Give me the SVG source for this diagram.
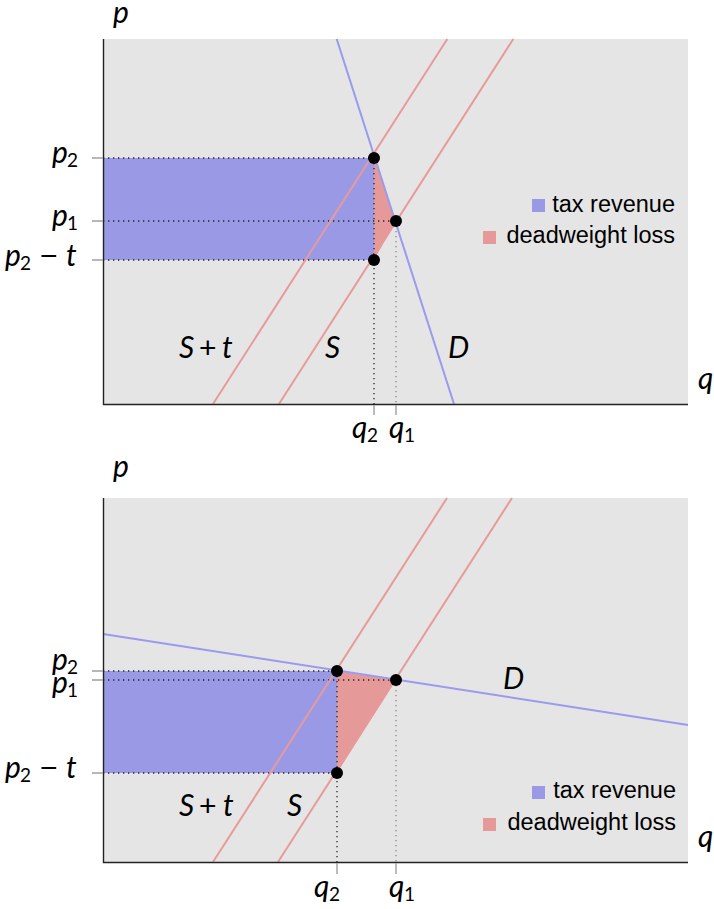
<svg xmlns="http://www.w3.org/2000/svg" width="714" height="909" viewBox="0 0 714 909">
<style>
.bg{fill:#e5e5e5}
.tax{fill:#9999e6}
.dwl{fill:#e69999}
.dot{fill:none;stroke:#222;stroke-width:1.3;stroke-dasharray:1.3 3.7}
.dotg{fill:none;stroke:#888;stroke-width:1.3;stroke-dasharray:1.3 3.7}
.dem{fill:none;stroke:#9a9aee;stroke-width:2}
.sup{fill:none;stroke:#e89a9a;stroke-width:2}
.axis{fill:none;stroke:#222;stroke-width:1.4}
.tick{fill:none;stroke:#a0a0a0;stroke-width:1.4}
.pt{fill:#000}
.m{font-family:Lato,"Open Sans","DejaVu Sans",sans-serif;font-size:30px;fill:#000}
.i{font-style:italic}
.sb{font-size:19px}
.op{font-family:"Liberation Sans",Arial,sans-serif;font-size:30px}
.lg{font-family:"Liberation Sans",Arial,sans-serif;font-size:23.5px;fill:#000}
</style>

<g id="top-plot">
  <rect class="bg" x="103" y="39" width="585" height="365"/>
  <rect id="top-tax" class="tax" x="103" y="158" width="271" height="102"/>
  <polygon id="top-dwl" class="dwl" points="374,158 396,221 374,260"/>
  <g id="top-guides">
    <path class="dot" d="M103 158H374M103 221H396M103 260H374M374 158V404"/>
    <path class="dotg" d="M396 221V404"/>
  </g>
  <g id="top-curves">
    <path id="top-D" class="dem" d="M336.7 39L454 404"/>
    <path id="top-St" class="sup" d="M213 404L447.3 39"/>
    <path id="top-S" class="sup" d="M279 404L513.3 39"/>
  </g>
  <g id="top-axes">
    <path class="axis" d="M103.5 39V404.5H688"/>
    <path class="tick" d="M92 158H103M92 221H103M92 260H103M374 405V415M396 405V415"/>
  </g>
  <g id="top-points">
    <circle class="pt" cx="374" cy="158" r="6"/>
    <circle class="pt" cx="396" cy="221" r="6"/>
    <circle class="pt" cx="374" cy="260" r="6"/>
  </g>
  <g id="top-labels">
    <text class="m i" x="113" y="23">p</text>
    <text class="m i" x="698" y="389">q</text>
    <text class="m"><tspan class="i" x="52" y="163">p</tspan><tspan class="sb" x="67" y="167">2</tspan></text>
    <text class="m"><tspan class="i" x="52" y="226">p</tspan><tspan class="sb" x="67" y="230">1</tspan></text>
    <text class="m"><tspan class="i" x="5" y="266">p</tspan><tspan class="sb" x="20" y="270">2</tspan><tspan class="op" x="40" y="266">−</tspan><tspan class="i" x="66" y="266">t</tspan></text>
    <text class="m"><tspan class="i" x="352" y="438">q</tspan><tspan class="sb" x="367" y="442">2</tspan></text>
    <text class="m"><tspan class="i" x="389" y="438">q</tspan><tspan class="sb" x="404" y="442">1</tspan></text>
    <text class="m"><tspan class="i" x="179" y="358">S</tspan><tspan class="op" x="199" y="358">+</tspan><tspan class="i" x="222" y="358">t</tspan></text>
    <text class="m i" x="325" y="358">S</text>
    <text class="m i" x="448" y="358">D</text>
  </g>
  <g id="top-legend">
    <rect class="tax" x="532" y="199" width="13" height="13"/>
    <text class="lg" x="675" y="211.5" text-anchor="end">tax revenue</text>
    <rect class="dwl" x="483" y="231" width="13" height="13"/>
    <text class="lg" x="675" y="243" text-anchor="end">deadweight loss</text>
  </g>
</g>

<g id="bottom-plot">
  <rect class="bg" x="103" y="498" width="585" height="364"/>
  <rect id="bot-tax" class="tax" x="103" y="671" width="234" height="102"/>
  <polygon id="bot-dwl" class="dwl" points="337,671 396,680 337,773"/>
  <g id="bot-guides">
    <path class="dot" d="M103 671H337M103 680H396M103 773H337M337 671V862"/>
    <path class="dotg" d="M396 680V862"/>
  </g>
  <g id="bot-curves">
    <path id="bot-D" class="dem" d="M103 634L688 725"/>
    <path id="bot-St" class="sup" d="M213 862L447 498"/>
    <path id="bot-S" class="sup" d="M278 862L512 498"/>
  </g>
  <g id="bot-axes">
    <path class="axis" d="M103.5 498V862.5H688"/>
    <path class="tick" d="M92 671H103M92 680H103M92 773H103M337 863V874M396 863V874"/>
  </g>
  <g id="bot-points">
    <circle class="pt" cx="337" cy="671" r="6"/>
    <circle class="pt" cx="396" cy="680" r="6"/>
    <circle class="pt" cx="337" cy="773" r="6"/>
  </g>
  <g id="bot-labels">
    <text class="m i" x="113" y="477">p</text>
    <text class="m i" x="698" y="847">q</text>
    <text class="m"><tspan class="i" x="52" y="670">p</tspan><tspan class="sb" x="67" y="674">2</tspan></text>
    <text class="m"><tspan class="i" x="52" y="693">p</tspan><tspan class="sb" x="67" y="697">1</tspan></text>
    <text class="m"><tspan class="i" x="5" y="778">p</tspan><tspan class="sb" x="20" y="782">2</tspan><tspan class="op" x="40" y="778">−</tspan><tspan class="i" x="66" y="778">t</tspan></text>
    <text class="m"><tspan class="i" x="314" y="897">q</tspan><tspan class="sb" x="329" y="901">2</tspan></text>
    <text class="m"><tspan class="i" x="389" y="897">q</tspan><tspan class="sb" x="404" y="901">1</tspan></text>
    <text class="m"><tspan class="i" x="179" y="816">S</tspan><tspan class="op" x="199" y="816">+</tspan><tspan class="i" x="223" y="816">t</tspan></text>
    <text class="m i" x="287" y="816">S</text>
    <text class="m i" x="503" y="689">D</text>
  </g>
  <g id="bot-legend">
    <rect class="tax" x="532" y="786" width="13" height="13"/>
    <text class="lg" x="676" y="798" text-anchor="end">tax revenue</text>
    <rect class="dwl" x="483" y="818" width="13" height="13"/>
    <text class="lg" x="676" y="830" text-anchor="end">deadweight loss</text>
  </g>
</g>
</svg>
